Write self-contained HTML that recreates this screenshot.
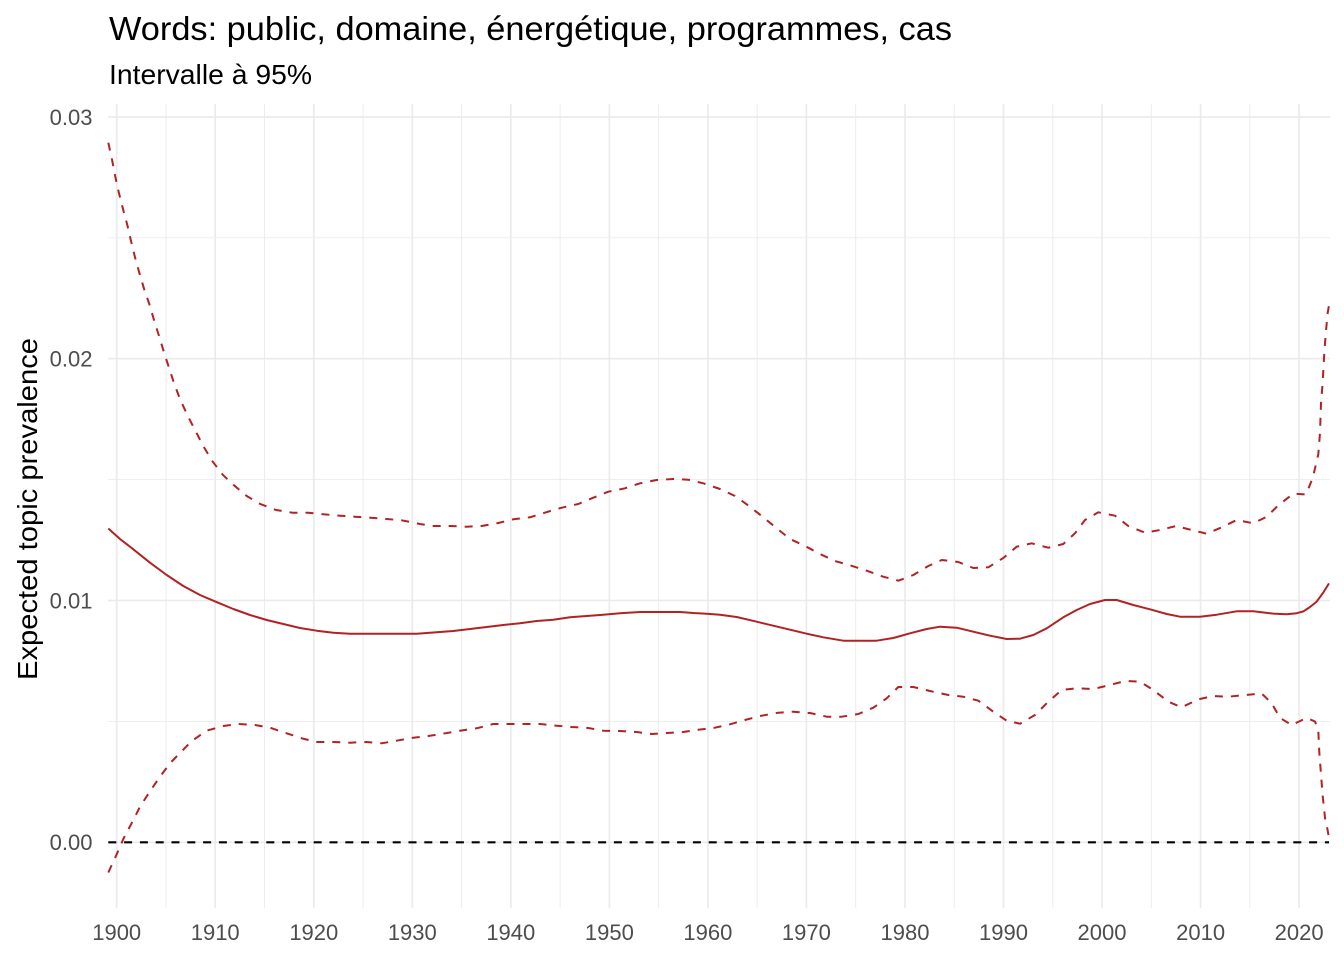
<!DOCTYPE html>
<html>
<head>
<meta charset="utf-8">
<style>
  html, body { margin: 0; padding: 0; background: #ffffff; }
  svg { display: block; }
  text { font-family: "Liberation Sans", Arial, sans-serif; }
</style>
</head>
<body>
<svg width="1344" height="960" viewBox="0 0 1344 960" xmlns="http://www.w3.org/2000/svg">
  <rect x="0" y="0" width="1344" height="960" fill="#ffffff"/>

  <!-- minor grid -->
  <g stroke="#EBEBEB" stroke-width="0.9" fill="none">
    <line x1="108" y1="237.8" x2="1330" y2="237.8"/>
    <line x1="108" y1="479.6" x2="1330" y2="479.6"/>
    <line x1="108" y1="721.4" x2="1330" y2="721.4"/>
    <line x1="166.0" y1="104" x2="166.0" y2="908"/>
    <line x1="264.5" y1="104" x2="264.5" y2="908"/>
    <line x1="363.1" y1="104" x2="363.1" y2="908"/>
    <line x1="461.6" y1="104" x2="461.6" y2="908"/>
    <line x1="560.1" y1="104" x2="560.1" y2="908"/>
    <line x1="658.6" y1="104" x2="658.6" y2="908"/>
    <line x1="757.2" y1="104" x2="757.2" y2="908"/>
    <line x1="855.7" y1="104" x2="855.7" y2="908"/>
    <line x1="954.2" y1="104" x2="954.2" y2="908"/>
    <line x1="1052.8" y1="104" x2="1052.8" y2="908"/>
    <line x1="1151.3" y1="104" x2="1151.3" y2="908"/>
    <line x1="1249.8" y1="104" x2="1249.8" y2="908"/>
  </g>
  <!-- major grid -->
  <g stroke="#EBEBEB" stroke-width="1.7" fill="none">
    <line x1="108" y1="117.0" x2="1330" y2="117.0"/>
    <line x1="108" y1="358.7" x2="1330" y2="358.7"/>
    <line x1="108" y1="600.5" x2="1330" y2="600.5"/>
    <line x1="108" y1="842.3" x2="1330" y2="842.3"/>
    <line x1="116.7" y1="104" x2="116.7" y2="908"/>
    <line x1="215.2" y1="104" x2="215.2" y2="908"/>
    <line x1="313.8" y1="104" x2="313.8" y2="908"/>
    <line x1="412.3" y1="104" x2="412.3" y2="908"/>
    <line x1="510.8" y1="104" x2="510.8" y2="908"/>
    <line x1="609.4" y1="104" x2="609.4" y2="908"/>
    <line x1="707.9" y1="104" x2="707.9" y2="908"/>
    <line x1="806.4" y1="104" x2="806.4" y2="908"/>
    <line x1="905.0" y1="104" x2="905.0" y2="908"/>
    <line x1="1003.5" y1="104" x2="1003.5" y2="908"/>
    <line x1="1102.0" y1="104" x2="1102.0" y2="908"/>
    <line x1="1200.6" y1="104" x2="1200.6" y2="908"/>
    <line x1="1299.1" y1="104" x2="1299.1" y2="908"/>
  </g>

  <!-- zero line -->
  <line x1="108.3" y1="842.3" x2="1329" y2="842.3" stroke="#000000" stroke-width="2.2" stroke-dasharray="8 7.8"/>

  <!-- upper bound -->
  <polyline fill="none" stroke="#B22222" stroke-width="2" stroke-dasharray="8 8" stroke-linejoin="round"
    points="108.3,142.7 112.3,161 115.3,176.7 119,193.3 123,209 127.3,225 131,241 135,257.3 139.3,272.7 144,288.7 149.3,304 154,320 159,336 164,352.3 169,367.7 174.3,384 180.3,399.7 187.3,415 195,430 203.3,446 212,460.7 222.7,474.7 234,485.3 246.7,496 260.3,504 276,510 292.5,512.7 308.3,512.7 323.3,514.3 340,515.7 355,516.7 370.7,517.7 386.7,519 401.7,520.3 420,524 433.3,526 450,526 466.7,526.7 481.7,526 498.3,523 513.3,519.3 530,517.3 546,512.3 561.7,507.7 578.3,504 593.3,497.7 608.3,491.7 625,488.3 640,483.3 656.7,480 673.3,479 688.3,479.7 703.3,483.3 720,489 735,496 746.7,504.3 761.7,516 776.7,528.3 790,539 805,546 820,554 835,561 850,565.3 866.7,570.7 883.3,576.7 898.3,580.7 913.3,575 928.3,566 941.7,560 958.3,562 973.3,568 988.3,567.3 1003.3,558 1016.7,546.7 1031.7,543.3 1048.3,547.7 1063.3,544 1075,533.3 1085,520 1098.3,512.3 1115,515.7 1128.3,526 1145,532.7 1160,530 1176,526 1191.7,530 1206.7,533.7 1221.7,527.3 1236.7,520 1253.3,523.3 1266.7,516.7 1278.3,505.3 1293.3,493.7 1306,494.4 1312.7,478 1318.3,454.4 1320,432.6 1321,403.5 1322.7,381.7 1324.3,352.7 1326,330.9 1327.7,312.7 1329,305.4"/>

  <!-- mean -->
  <polyline fill="none" stroke="#B22222" stroke-width="2" stroke-linejoin="round"
    points="108.3,528.5 120,539 133.3,549.3 150,562.7 166.7,575 183.3,586 200,595 215.7,601.7 233.3,609 250,615 266.7,620 283.3,624 300,628 316.7,630.7 333.3,632.7 350,633.7 383.3,633.7 416.7,633.7 436.7,632.3 453.3,631 470,629 486.7,627 503.3,625 520,623.3 536.7,621 553.3,619.7 570,617.3 586.7,616 603.3,614.7 620,613.3 640,612 660,612 680,612 693.3,613 706.7,613.7 720,614.7 736.7,617 756.7,621.7 773.3,625.7 790,629.7 806.7,633.7 823.3,637.3 843.3,640.7 860,640.7 876.7,640.7 893.3,638 910,633.3 926.7,629 940,626.7 956.7,627.7 973.3,631.7 990,635.7 1006.7,639 1020,638.7 1033.3,635 1046.7,628.3 1063.3,617.3 1076.7,610 1090,604 1105,600 1116.7,600 1133.3,605 1150,609.3 1166.7,614 1180,616.7 1200,616.7 1216.7,614.7 1236.7,611.3 1253.3,611.3 1273.3,613.6 1286.7,614.3 1296.7,613.2 1303.3,611.4 1310,607 1316.7,601.6 1323.3,592.5 1329,583.4"/>

  <!-- lower bound -->
  <polyline fill="none" stroke="#B22222" stroke-width="2" stroke-dasharray="8 8" stroke-linejoin="round"
    points="108.3,872.5 116.7,854.3 123.3,839 133.3,820 140,806.7 149.3,792.3 158.3,779 170,763.3 179,754 191.7,741 206.7,730.7 223.3,726 238.3,724 255,725 270,727.7 286.7,733.3 301.7,738.3 316.7,742 333.3,742 350,742.7 366.7,742 381.7,743.3 396.7,740.7 413.3,737.7 428.3,736 445,733.3 460,730.7 476.7,728.3 493.3,724 510,724 525,724 540,724 556.7,725.7 571.7,727 588.3,728 603.3,730.7 620,731 636.7,732 651.7,734 666.7,733 683.3,732 698.3,729.7 715,727.7 730,724.3 745,720 760,716 778.3,712.7 793.3,711.7 810,713 826.7,716.7 841.7,716.7 858.3,714 873.3,707.7 886.7,698.3 898.3,687 913.3,687 930,691 948.3,695 963.3,696.7 978.3,700.7 993.3,711.7 1006.7,720.7 1020,723.7 1035,715 1048.3,701.7 1061.7,690 1076.7,688.3 1093.3,689 1110,685 1125,681 1140,681.7 1153.3,690 1168.3,701.7 1181.7,707.3 1198.3,699.3 1213.3,696 1228.3,696.7 1245,695 1261.7,693.5 1271.7,703.3 1280,717.9 1291.7,725.1 1296.7,722.6 1306.7,717.9 1315,721.5 1318.3,730.6 1319.3,752.4 1321,774.2 1322.7,796 1325,817.8 1327.7,830.5 1329,838.5"/>

  <!-- y axis labels -->
  <g fill="#4D4D4D" font-size="22" text-anchor="end">
    <text x="92.5" y="124.8">0.03</text>
    <text x="92.5" y="366.5">0.02</text>
    <text x="92.5" y="608.3">0.01</text>
    <text x="92.5" y="850.1">0.00</text>
  </g>

  <!-- x axis labels -->
  <g fill="#4D4D4D" font-size="22" text-anchor="middle">
    <text x="116.7" y="940">1900</text>
    <text x="215.2" y="940">1910</text>
    <text x="313.8" y="940">1920</text>
    <text x="412.3" y="940">1930</text>
    <text x="510.8" y="940">1940</text>
    <text x="609.4" y="940">1950</text>
    <text x="707.9" y="940">1960</text>
    <text x="806.4" y="940">1970</text>
    <text x="905.0" y="940">1980</text>
    <text x="1003.5" y="940">1990</text>
    <text x="1102.0" y="940">2000</text>
    <text x="1200.6" y="940">2010</text>
    <text x="1299.1" y="940">2020</text>
  </g>

  <!-- y axis title -->
  <text x="0" y="0" font-size="27.5" fill="#000000" text-anchor="middle"
        transform="translate(37,509) rotate(-90)" textLength="342" lengthAdjust="spacingAndGlyphs">Expected topic prevalence</text>

  <!-- title and subtitle -->
  <text x="109" y="40" font-size="33" fill="#000000" textLength="843" lengthAdjust="spacingAndGlyphs">Words: public, domaine, énergétique, programmes, cas</text>
  <text x="109" y="84" font-size="27.5" fill="#000000" textLength="203" lengthAdjust="spacingAndGlyphs">Intervalle à 95%</text>
</svg>
</body>
</html>
